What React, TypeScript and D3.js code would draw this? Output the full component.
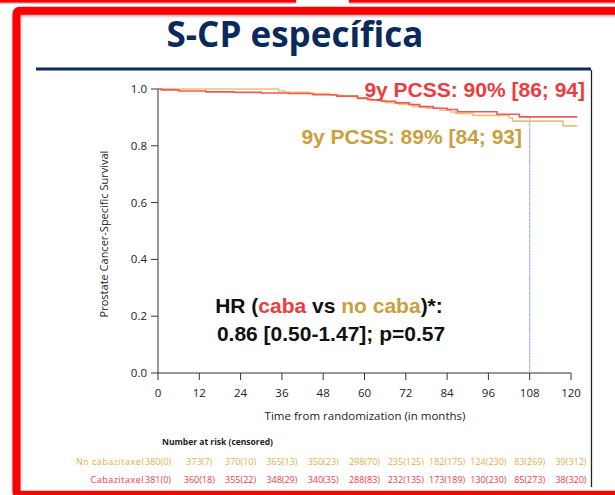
import React from "react";
import * as d3 from "d3";

const monthTicks = [0, 12, 24, 36, 48, 60, 72, 84, 96, 108, 120];
const survTicks = [0, 0.2, 0.4, 0.6, 0.8, 1.0];

// Kaplan-Meier steps: [month, survival]
const cabaSteps: [number, number][] = [
  [0, 1.0], [1, 0.997], [6, 0.993], [14, 0.99], [22, 0.988], [30, 0.986],
  [38, 0.984], [45, 0.98], [52, 0.975], [58, 0.968], [61, 0.962], [65, 0.957],
  [69, 0.951], [73, 0.945], [76, 0.938], [80, 0.932], [84, 0.928], [87, 0.92],
  [98.5, 0.911], [105, 0.902], [121.8, 0.902],
];
const noCabaSteps: [number, number][] = [
  [0, 1.0], [35, 0.993], [37, 0.988], [44, 0.984], [50, 0.978], [54, 0.974],
  [58, 0.966], [62, 0.96], [66, 0.952], [70, 0.946], [74, 0.938], [78, 0.932],
  [82, 0.925], [85, 0.919], [86.5, 0.914], [91.5, 0.907], [102, 0.899],
  [103, 0.887], [117.7, 0.87], [121.8, 0.87],
];

const riskNoCaba = ["380(0)", "373(7)", "370(10)", "365(13)", "350(23)", "298(70)", "235(125)", "182(175)", "124(230)", "83(269)", "39(312)"];
const riskCaba = ["381(0)", "360(18)", "355(22)", "348(29)", "340(35)", "288(83)", "232(135)", "173(189)", "130(230)", "85(273)", "38(320)"];

const RED = "#ee3b3f";
const GOLD = "#c9a03e";
const RED_LINE = "#f0585c";
const GOLD_LINE = "#ebc273";

export default function App() {
  const x = d3.scaleLinear().domain([0, 120]).range([158, 571]);
  const y = d3.scaleLinear().domain([0, 1]).range([373, 89]);
  const line = d3
    .line<[number, number]>()
    .x((d) => x(d[0]))
    .y((d) => y(d[1]))
    .curve(d3.curveStepAfter);

  const small = "'Open Sans', Lato, sans-serif";
  const bold = "'Liberation Sans', Arial, sans-serif";

  return (
    <svg
      width={615}
      height={495}
      style={{ position: "absolute", left: 0, top: 0, background: "#fff" }}
    >
      <defs>
        <filter id="sh" x="-5%" y="-5%" width="110%" height="110%">
          <feDropShadow dx="0" dy="1.5" stdDeviation="1.2" floodColor="#000" floodOpacity="0.35" />
        </filter>
      </defs>
      {/* frames */}
      <rect x={-5} y={-10} width={301} height={12.5} fill="#ff0000" filter="url(#sh)" />
      <rect x={349} y={-10} width={280} height={12.5} fill="#ff0000" filter="url(#sh)" />
      <rect
        x={16.5}
        y={10.8}
        width={620}
        height={484}
        rx={3}
        fill="none"
        stroke="#ff0000"
        strokeWidth={8}
        filter="url(#sh)"
      />

      {/* title */}
      <text
        x={295}
        y={47}
        textAnchor="middle"
        fontFamily="'Open Sans', sans-serif"
        fontWeight={700}
        fontSize={35}
        fill="#0b2a5b"
      >
        S-CP específica
      </text>
      <line x1={36} x2={591} y1={69} y2={69} stroke="#0b2a5b" strokeWidth={3} />
      <line x1={591.5} x2={591.5} y1={70} y2={487} stroke="#222" strokeWidth={1.3} />

      {/* axes */}
      <line x1={158} x2={158} y1={y(1)} y2={y(0)} stroke="#333" strokeWidth={1} />
      <line x1={158} x2={x(120)} y1={y(0)} y2={y(0)} stroke="#333" strokeWidth={1} />
      {survTicks.map((t) => (
        <g key={t}>
          <line x1={151} x2={158} y1={y(t)} y2={y(t)} stroke="#333" />
          <text
            x={147}
            y={y(t) + 4}
            textAnchor="end"
            fontFamily={small}
            fontSize={11.5}
            fill="#222"
          >
            {t.toFixed(1)}
          </text>
        </g>
      ))}
      {monthTicks.map((t) => (
        <g key={t}>
          <line x1={x(t)} x2={x(t)} y1={373} y2={380} stroke="#333" />
          <text
            x={x(t)}
            y={397}
            textAnchor="middle"
            fontFamily={small}
            fontSize={11.5}
            fill="#222"
          >
            {t}
          </text>
        </g>
      ))}
      <text
        x={365}
        y={420}
        textAnchor="middle"
        fontFamily={small}
        fontSize={11.5}
        fill="#222"
      >
        Time from randomization (in months)
      </text>
      <text
        transform="translate(108,234) rotate(-90)"
        textAnchor="middle"
        fontFamily={small}
        fontSize={11}
        fill="#222"
      >
        Prostate Cancer-Specific Survival
      </text>

      {/* 108 month marker */}
      <line
        x1={x(108)}
        x2={x(108)}
        y1={y(0.9)}
        y2={y(0)}
        stroke="#86a6e2"
        strokeWidth={1.2}
        strokeDasharray="1.5 0.6"
      />

      {/* curves */}
      <path d={line(noCabaSteps) || ""} fill="none" stroke={GOLD_LINE} strokeWidth={1.6} />
      <path d={line(cabaSteps) || ""} fill="none" stroke={RED_LINE} strokeWidth={1.6} />

      {/* annotations */}
      <text x={585} y={97} textAnchor="end" fontFamily={bold} fontWeight={700} fontSize={21} fill={RED}>
        9y PCSS: 90% [86; 94]
      </text>
      <text x={522} y={144} textAnchor="end" fontFamily={bold} fontWeight={700} fontSize={21} fill={GOLD}>
        9y PCSS: 89% [84; 93]
      </text>
      <text x={329} y={313} textAnchor="middle" fontFamily={bold} fontWeight={700} fontSize={21} fill="#111">
        HR (<tspan fill={RED}>caba</tspan> vs <tspan fill={GOLD}>no caba</tspan>)*:
      </text>
      <text x={331} y={341} textAnchor="middle" fontFamily={bold} fontWeight={700} fontSize={21} fill="#111">
        0.86 [0.50-1.47]; p=0.57
      </text>

      {/* number at risk */}
      <text x={162} y={445} fontFamily={small} fontWeight={700} fontSize={8.5} fill="#222">
        Number at risk (censored)
      </text>
      <text x={144} y={465} textAnchor="end" fontFamily={small} fontSize={9} fill="#e0b04c" letterSpacing={0.5}>
        No cabazitaxel
      </text>
      <text x={144} y={483} textAnchor="end" fontFamily={small} fontSize={9} fill="#ec3c4c" letterSpacing={0.5}>
        Cabazitaxel
      </text>
      {riskNoCaba.map((v, i) => (
        <text key={"n" + i} x={x(monthTicks[i])} y={465} textAnchor="middle" fontFamily={small} fontSize={9} fill="#e0b04c">
          {v}
        </text>
      ))}
      {riskCaba.map((v, i) => (
        <text key={"c" + i} x={x(monthTicks[i])} y={483} textAnchor="middle" fontFamily={small} fontSize={9} fill="#ec3c4c">
          {v}
        </text>
      ))}
    </svg>
  );
}
